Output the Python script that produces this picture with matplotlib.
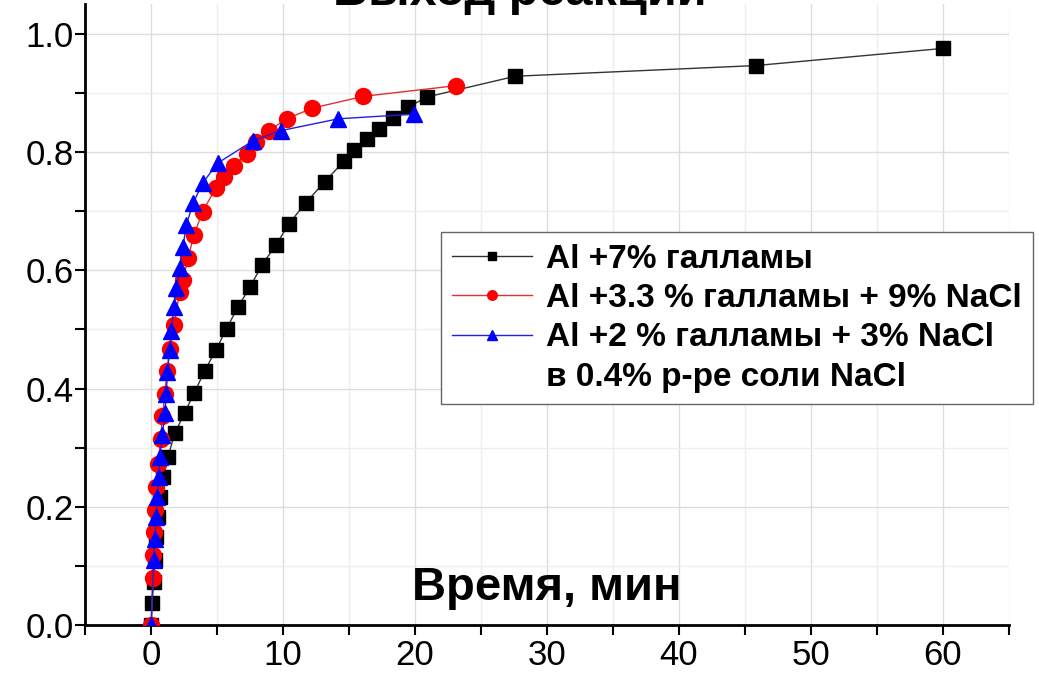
import numpy as np
import matplotlib
matplotlib.use("Agg")
import matplotlib.pyplot as plt
from matplotlib.lines import Line2D
from matplotlib.ticker import MultipleLocator

plt.rcParams['font.family'] = ['Liberation Sans', 'DejaVu Sans']

# Al +7% галламы
t_black = [0, 0.06, 0.2, 0.27, 0.4, 0.52, 0.65, 0.9, 1.28, 1.78, 2.54, 3.25,
           4.06, 4.9, 5.71, 6.55, 7.48, 8.37, 9.43, 10.46, 11.71, 13.17,
           14.64, 15.38, 16.39, 17.25, 18.36, 19.5, 20.92, 27.6, 45.8, 60.0]
y_black = [0, 0.038, 0.073, 0.110, 0.149, 0.183, 0.216, 0.250, 0.285, 0.324,
           0.359, 0.392, 0.430, 0.465, 0.501, 0.537, 0.571, 0.608, 0.642,
           0.679, 0.714, 0.750, 0.785, 0.804, 0.822, 0.839, 0.858, 0.876,
           0.893, 0.928, 0.946, 0.975]

# Al +3.3 % галламы + 9% NaCl
t_red = [0, 0.14, 0.14, 0.19, 0.29, 0.39, 0.52, 0.72, 0.85, 1.03, 1.2, 1.4,
         1.73, 2.16, 2.41, 2.79, 3.25, 3.89, 4.9, 5.5, 6.26, 7.23, 7.93,
         8.92, 10.27, 12.21, 16.08, 23.1]
y_red = [0, 0.079, 0.118, 0.158, 0.195, 0.234, 0.273, 0.314, 0.353, 0.390,
         0.430, 0.467, 0.507, 0.563, 0.583, 0.621, 0.660, 0.699, 0.739, 0.757,
         0.777, 0.796, 0.816, 0.836, 0.856, 0.874, 0.894, 0.912]

# Al +2 % галламы + 3% NaCl
t_blue = [0, 0.19, 0.27, 0.39, 0.47, 0.59, 0.65, 0.85, 1.03, 1.15, 1.23, 1.4,
          1.53, 1.71, 1.91, 2.16, 2.41, 2.67, 3.17, 3.89, 5.03, 7.73, 9.83,
          14.18, 19.95]
y_blue = [0, 0.110, 0.146, 0.183, 0.216, 0.250, 0.284, 0.321, 0.358, 0.391,
          0.428, 0.465, 0.498, 0.537, 0.570, 0.604, 0.640, 0.677, 0.713,
          0.747, 0.781, 0.819, 0.836, 0.856, 0.864]

labels = ["Al +7% галламы",
          "Al +3.3 % галламы + 9% NaCl",
          "Al +2 % галламы + 3% NaCl",
          "в 0.4% р-ре соли NaCl"]

fig = plt.figure(figsize=(10.39, 6.78), dpi=100)
ax = fig.add_axes([0.082, 0.078, 0.889, 0.916])

ax.plot(t_black, y_black, color='#333333', lw=1, marker='s', ms=10,
        mfc='black', mec='black', label=labels[0], zorder=3)
ax.plot(t_red, y_red, color='#e03030', lw=1, marker='o', ms=11.5,
        mfc='#ff0000', mec='#ff0000', label=labels[1], zorder=4)
ax.plot(t_blue, y_blue, color='#2020e0', lw=1, marker='^', ms=12,
        mfc='#0000ff', mec='#0000ff', label=labels[2], zorder=5)

ax.set_xlim(-5, 65)
ax.set_ylim(0, 1.05)
ax.xaxis.set_major_locator(MultipleLocator(10))
ax.xaxis.set_minor_locator(MultipleLocator(5))
ax.yaxis.set_major_locator(MultipleLocator(0.2))
ax.yaxis.set_minor_locator(MultipleLocator(0.1))
ax.yaxis.set_major_formatter(plt.FormatStrFormatter('%.1f'))

ax.grid(True, which='major', color='#dddddd', lw=1)
ax.grid(True, which='minor', color='#eeeeee', lw=1)
ax.set_axisbelow(True)

for s in ['top', 'right']:
    ax.spines[s].set_visible(False)
for s in ['left', 'bottom']:
    ax.spines[s].set_linewidth(2)

ax.tick_params(axis='both', which='both', direction='out', length=7,
               width=1.5)
ax.tick_params(axis='y', labelsize=25, pad=1)
ax.tick_params(axis='x', labelsize=25, pad=3)

ax.text(30, 0.062, "Время, мин", fontsize=34, fontweight='bold',
        ha='center', va='center')
fig.text(0.5, 0.993, "Выход реакции", fontsize=35, fontweight='bold',
         ha='center', va='baseline')

handles, _ = ax.get_legend_handles_labels()
handles.append(Line2D([], [], color='none', marker=None))
leg = ax.legend(handles, labels, loc='upper left',
                bbox_to_anchor=(0.385, 0.633), frameon=True, fancybox=False,
                edgecolor='#666666', framealpha=1, handlelength=2.4,
                handletextpad=0.4, borderpad=0.35, labelspacing=0.25,
                markerscale=0.6, borderaxespad=0,
                prop={'size': 24, 'weight': 'bold'})
leg.get_frame().set_linewidth(1)

fig.savefig("out.png", dpi=100)
